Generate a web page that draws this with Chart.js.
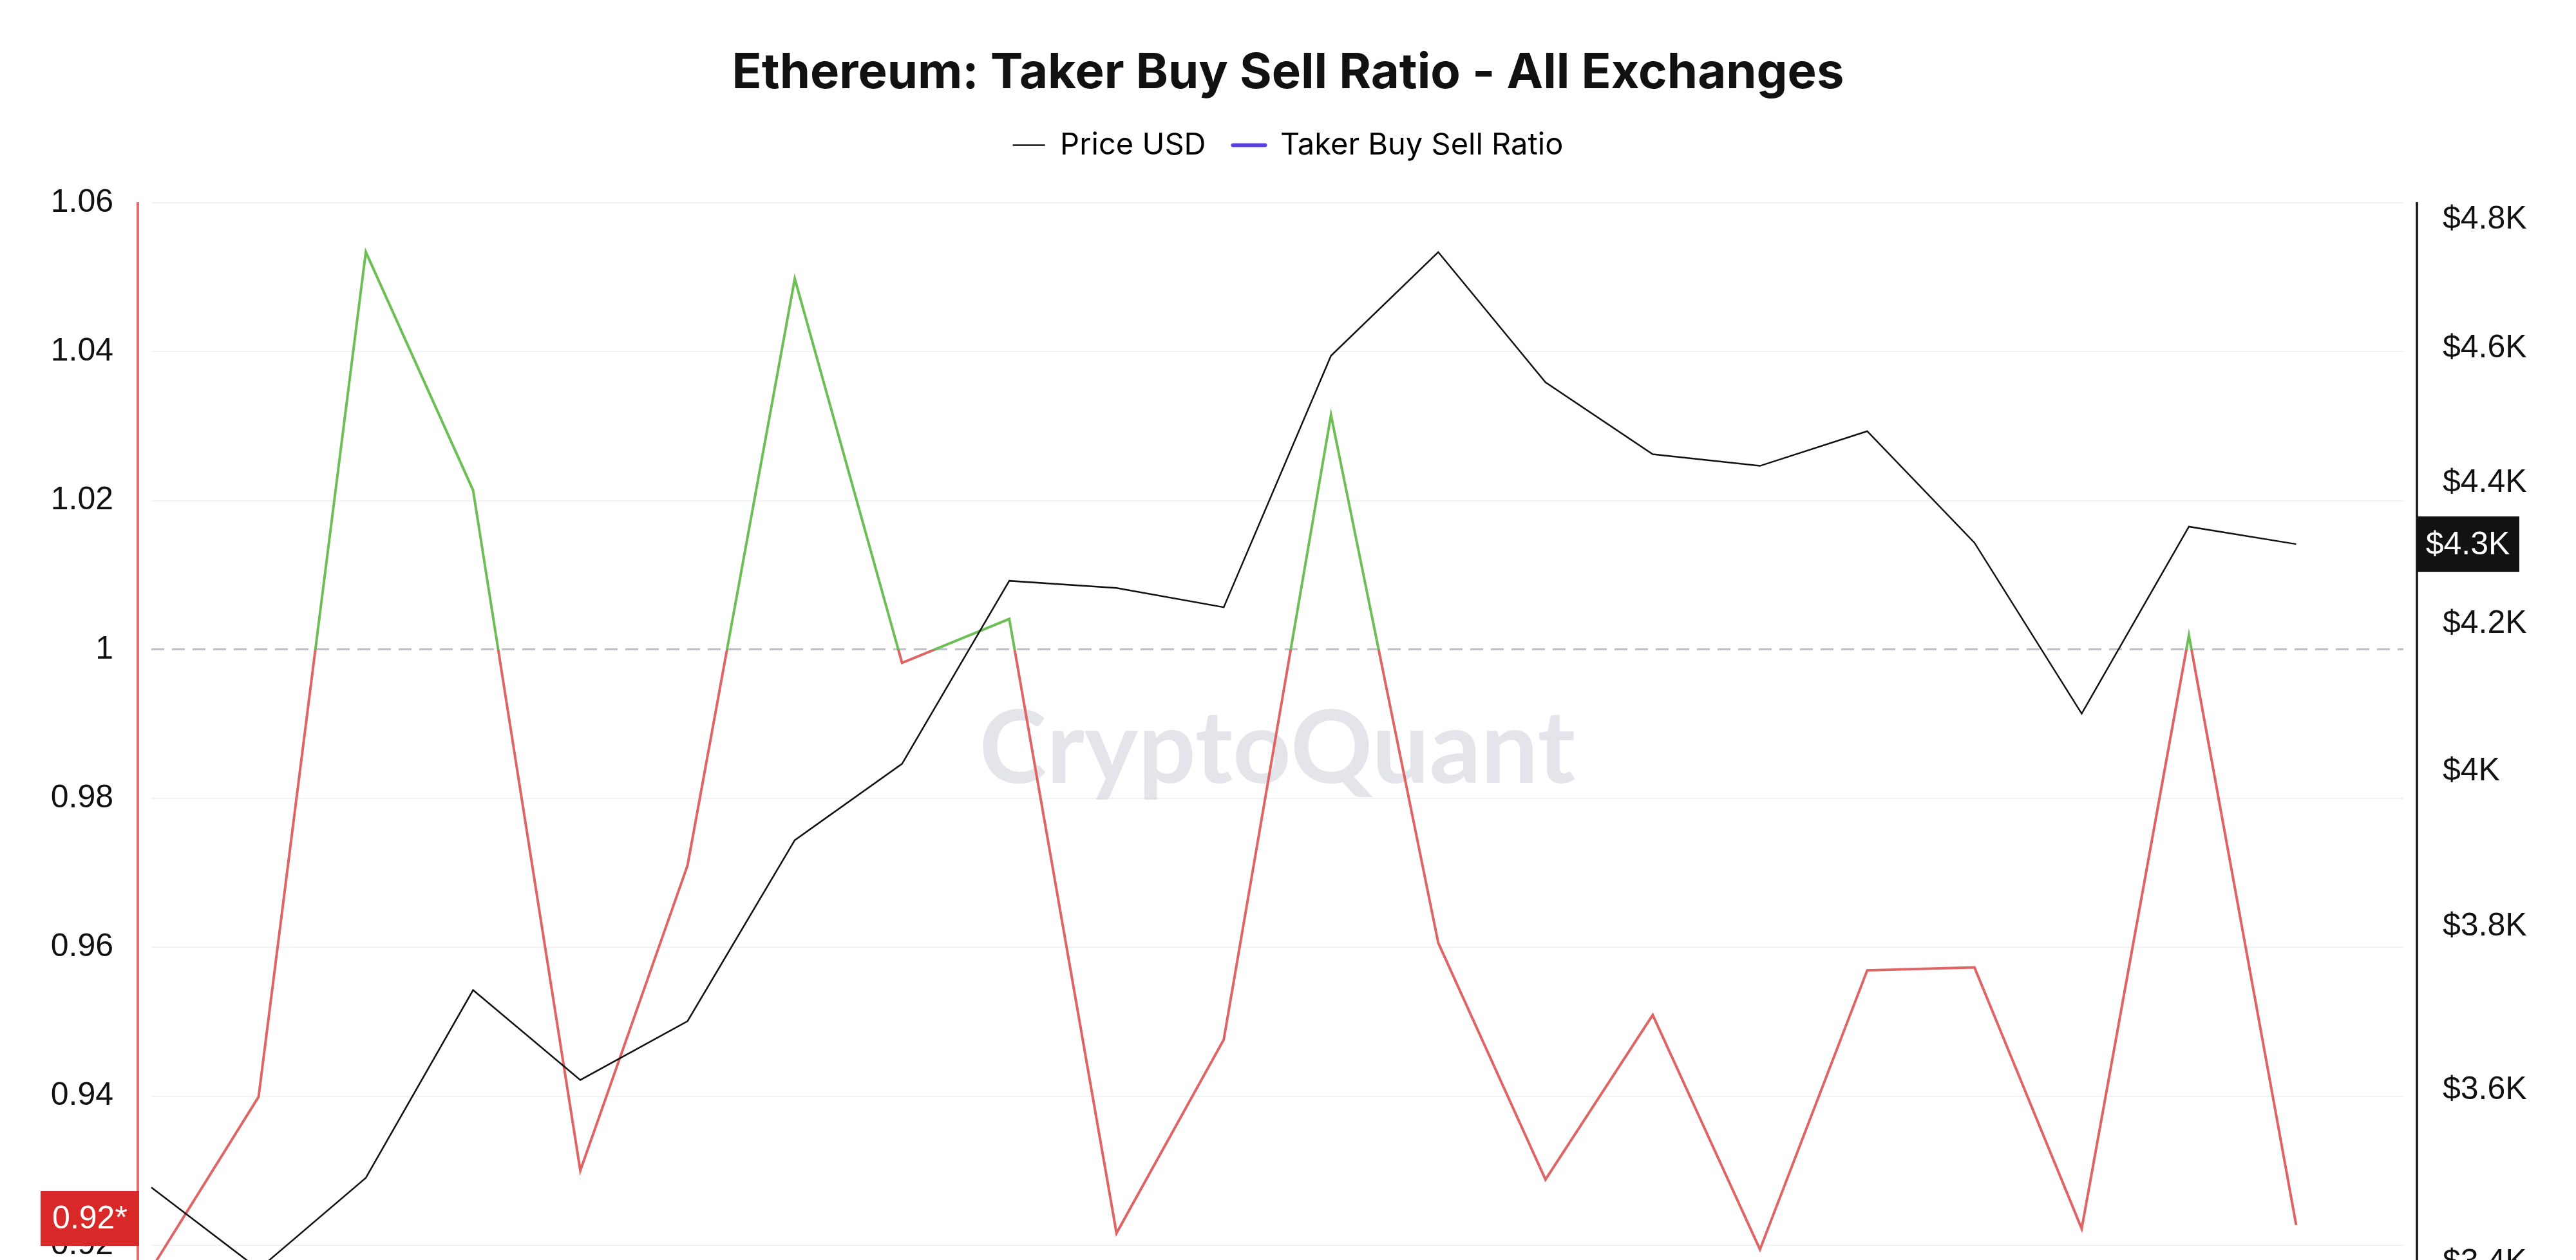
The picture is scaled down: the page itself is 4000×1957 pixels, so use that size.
<!DOCTYPE html>
<html>
<head>
<meta charset="utf-8">
<script src="https://cdn.jsdelivr.net/npm/chart.js@4.4.1/dist/chart.umd.min.js"></script>
<style>
  html, body { margin: 0; padding: 0; background: #fff; overflow: hidden; }
  #wrap { width: 4000px; height: 2256px; position: relative; }
</style>
</head>
<body>
<div id="wrap"><canvas id="myChart"></canvas></div>
<script>
// daily, Aug 2025 (last day has no data yet)
const dates = [
  '2025-08-01', '2025-08-02', '2025-08-03', '2025-08-04', '2025-08-05', '2025-08-06',
  '2025-08-07', '2025-08-08', '2025-08-09', '2025-08-10', '2025-08-11', '2025-08-12',
  '2025-08-13', '2025-08-14', '2025-08-15', '2025-08-16', '2025-08-17', '2025-08-18',
  '2025-08-19', '2025-08-20', '2025-08-21', '2025-08-22'
];
const priceUsd = [
  3486, 3393, 3497, 3721, 3612, 3683, 3910, 4010, 4260, 4250, 4223,
  4589, 4749, 4549, 4442, 4425, 4476, 4314, 4077, 4337, 4312
];
const takerRatio = [
  0.9168, 0.9399, 1.0534, 1.0214, 0.9300, 0.9710, 1.0498, 0.9982, 1.0041, 0.9216, 0.9476,
  1.0315, 0.9606, 0.9288, 0.9509, 0.9194, 0.9569, 0.9573, 0.9222, 1.0019, 0.9227
];
const ratioTicks = [0.9, 0.92, 0.94, 0.96, 0.98, 1, 1.02, 1.04, 1.06];
const priceTicks = [3400, 3600, 3800, 4000, 4200, 4400, 4600, 4800];

const GREEN = '#6dbf55';
const RED = '#e06464';
const AXIS_RED = '#e27070';
const TICK_FONT = {family: "'Liberation Sans', Arial, sans-serif", size: 50};
const AXIS_GAP = 21;

function kLabel(v) {
  return '$' + (v / 1000).toFixed(1).replace('.0', '') + 'K';
}

function ratioColor(context) {
  const chart = context.chart;
  const area = chart.chartArea;
  if (!area) return RED;
  const y1 = chart.scales.y.getPixelForValue(1);
  const stop = Math.min(1, Math.max(0, (y1 - area.top) / (area.bottom - area.top)));
  const g = chart.ctx.createLinearGradient(0, area.top, 0, area.bottom);
  g.addColorStop(0, GREEN);
  g.addColorStop(stop, GREEN);
  g.addColorStop(stop, RED);
  g.addColorStop(1, RED);
  return g;
}

function drawBadge(ctx, x, y, w, h, bg, text) {
  ctx.fillStyle = bg;
  ctx.fillRect(x, y - h / 2, w, h);
  ctx.fillStyle = '#fff';
  ctx.font = "50px 'Liberation Sans', Arial, sans-serif";
  ctx.textAlign = 'center';
  ctx.textBaseline = 'middle';
  ctx.fillText(text, x + w / 2, y + 2);
}

const legendSpace = {
  id: 'legendSpace',
  beforeInit(chart) {
    const fit = chart.legend.fit;
    chart.legend.fit = function () {
      fit.bind(chart.legend)();
      this.height += 56;
    };
  }
};

const overlay = {
  id: 'overlay',
  beforeDatasetsDraw(chart) {
    const {ctx, chartArea} = chart;
    ctx.save();
    ctx.fillStyle = 'rgba(212, 212, 224, 0.64)';
    ctx.font = "bold 158px 'Lato', 'Open Sans', sans-serif";
    ctx.textAlign = 'center';
    ctx.textBaseline = 'middle';
    ctx.fillText('CryptoQuant', (chartArea.left + chartArea.right) / 2, chartArea.top + 850);
    ctx.restore();
  },
  afterDraw(chart) {
    const {ctx, chartArea, scales} = chart;
    ctx.save();
    // axis lines, set a bit outside the plot
    ctx.lineWidth = 4;
    ctx.strokeStyle = AXIS_RED;
    ctx.beginPath();
    ctx.moveTo(chartArea.left - AXIS_GAP, chartArea.top - 1);
    ctx.lineTo(chartArea.left - AXIS_GAP, chartArea.bottom);
    ctx.stroke();
    ctx.strokeStyle = '#111';
    ctx.lineWidth = 3.5;
    ctx.beginPath();
    ctx.moveTo(chartArea.right + AXIS_GAP, chartArea.top - 1);
    ctx.lineTo(chartArea.right + AXIS_GAP, chartArea.bottom);
    ctx.stroke();

    // last value badges
    const lastRatio = takerRatio[takerRatio.length - 1];
    const lastPrice = priceUsd[priceUsd.length - 1];
    const ry = scales.y.getPixelForValue(lastRatio) - 10;
    const py = scales.y1.getPixelForValue(lastPrice);
    drawBadge(ctx, chartArea.left - AXIS_GAP + 2 - 153, ry, 153, 85, '#d92828',
      lastRatio.toFixed(2) + '*');
    drawBadge(ctx, chartArea.right + AXIS_GAP - 1, py, 160, 86, '#121212', kLabel(Math.round(lastPrice / 100) * 100));
    ctx.restore();
  }
};

const ctx = document.getElementById('myChart').getContext('2d');
const myChart = new Chart(ctx, {
  type: 'line',
  data: {
    labels: dates,
    datasets: [
      {
        label: 'Price USD',
        data: priceUsd,
        yAxisID: 'y1',
        borderColor: '#111',
        borderWidth: 2.5,
        pointRadius: 0,
        tension: 0
      },
      {
        label: 'Taker Buy Sell Ratio',
        data: takerRatio,
        yAxisID: 'y',
        borderColor: ratioColor,
        borderWidth: 4,
        pointRadius: 0,
        tension: 0
      }
    ]
  },
  options: {
    responsive: true,
    maintainAspectRatio: false,
    animation: false,
    devicePixelRatio: 1,
    layout: {padding: 0},
    plugins: {
      tooltip: {enabled: false},
      title: {
        display: true,
        text: 'Ethereum: Taker Buy Sell Ratio - All Exchanges',
        color: '#111',
        font: {family: 'Inter', size: 76, weight: 'bold', lineHeight: 1},
        padding: {top: 76, bottom: 8}
      },
      legend: {
        display: true,
        labels: {
          color: '#111',
          font: {family: 'Inter', size: 47},
          usePointStyle: true,
          pointStyleWidth: 50,
          padding: 42,
          generateLabels: () => [
            {text: 'Price USD', pointStyle: 'line', strokeStyle: '#111', fillStyle: '#111',
             lineWidth: 2.5, lineCap: 'butt', datasetIndex: 0},
            {text: 'Taker Buy Sell Ratio', pointStyle: 'line', strokeStyle: '#5a3fe2', fillStyle: '#5a3fe2',
             lineWidth: 6, lineCap: 'round', datasetIndex: 1}
          ]
        }
      }
    },
    scales: {
      x: {
        display: false
      },
      y: {
        position: 'left',
        min: 0.9,
        max: 1.06,
        afterBuildTicks: (scale) => { scale.ticks = ratioTicks.map(v => ({value: v})); },
        afterFit: (scale) => { scale.width = 235; },
        ticks: {
          color: '#111',
          font: TICK_FONT,
          padding: 59,
          callback: (v) => String(+v.toFixed(2))
        },
        grid: {
          drawTicks: false,
          lineWidth: (c) => (c.tick && c.tick.value === 1 ? 3 : 2),
          color: (c) => (c.tick && c.tick.value === 1 ? '#c0c0cc' : '#f2f2f2')
        },
        border: {
          display: false,
          dash: (c) => (c.tick && c.tick.value === 1 ? [20, 12] : [])
        }
      },
      y1: {
        type: 'logarithmic',
        position: 'right',
        min: 3256,
        max: 4827,
        afterBuildTicks: (scale) => { scale.ticks = priceTicks.map(v => ({value: v})); },
        afterFit: (scale) => { scale.width = 268; },
        ticks: {
          color: '#111',
          font: TICK_FONT,
          padding: 61,
          callback: (v) => kLabel(v)
        },
        grid: {drawOnChartArea: false, drawTicks: false},
        border: {display: false}
      }
    }
  },
  plugins: [legendSpace, overlay]
});
</script>
</body>
</html>
